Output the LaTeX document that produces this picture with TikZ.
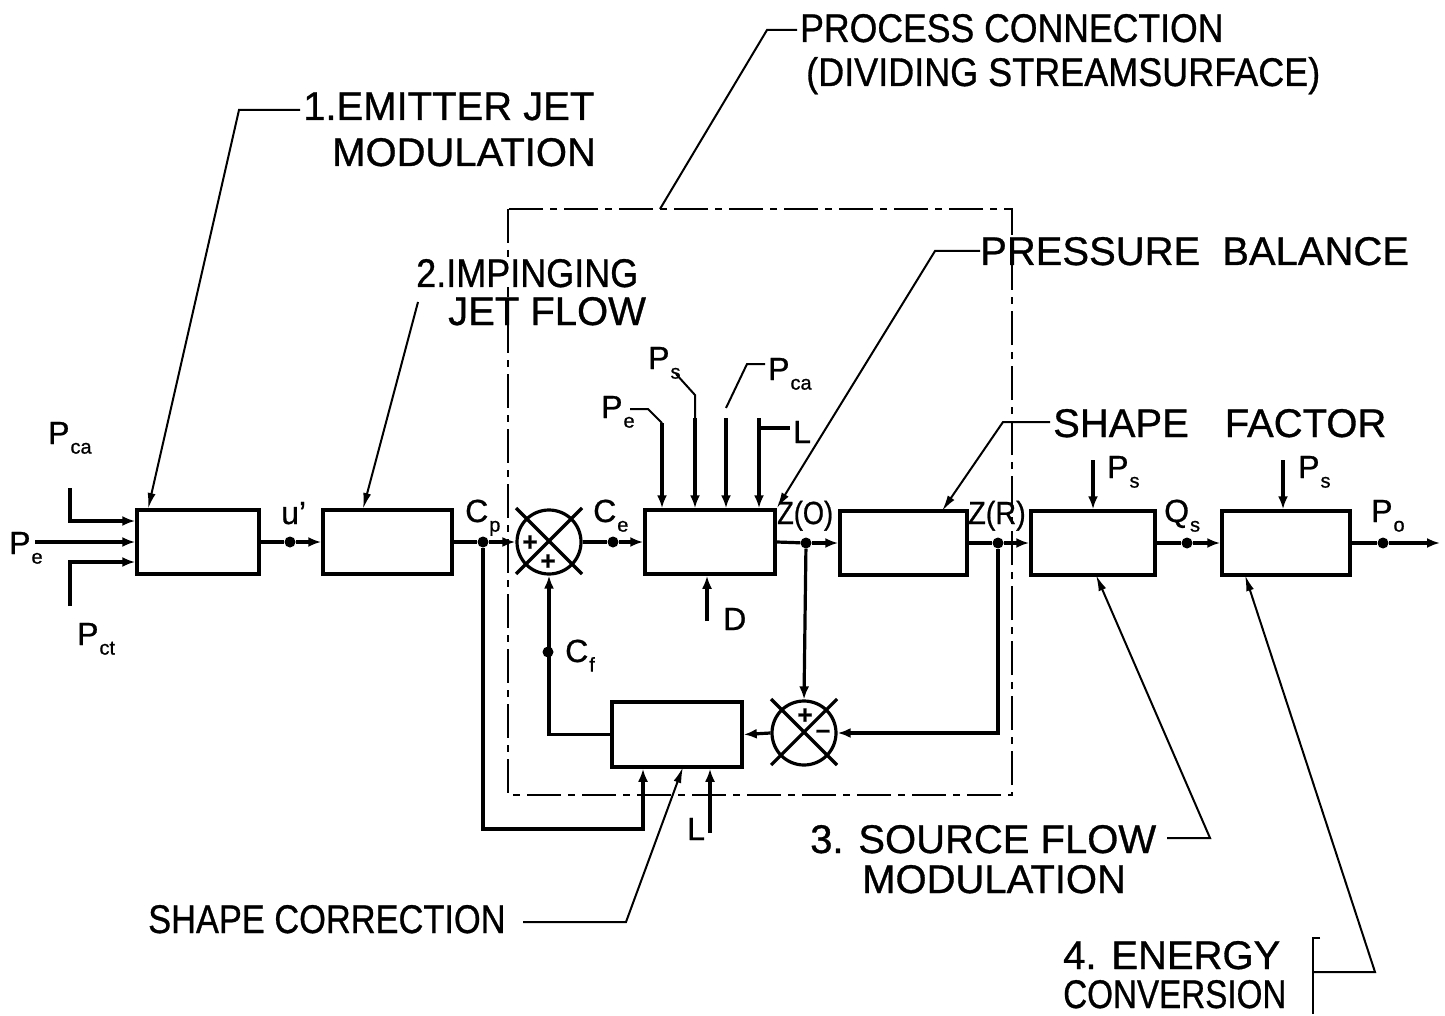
\documentclass[tikz,border=0pt]{standalone}
\usepackage{fontspec}
\usepackage{graphicx}
\setmainfont{Liberation Sans}[FakeBold=0.8]
\usetikzlibrary{arrows.meta,calc}
\newcommand\bigf{\fontsize{40}{44}\selectfont}
\newcommand\smf{\fontsize{32}{34}\selectfont}
\newcommand\sbs[1]{\kern0.03em\raisebox{-0.3em}{\fontsize{20}{20}\selectfont #1}}
\newcommand\hx[2]{\scalebox{#1}[1]{#2}}
\tikzset{
 sig/.style={line width=3.2pt},
 arr/.style={-{Latex[length=13pt,width=10pt]}},
 lead/.style={line width=2pt},
 larr/.style={line width=2pt,-{Latex[length=16pt,width=8pt]}},
 blk/.style={draw,line width=3.5pt,inner sep=0pt,minimum height=64pt},
 dotn/.style={circle,fill,inner sep=0pt,minimum size=11pt},
 summ/.style={circle,draw,line width=3.2pt,minimum size=64pt,inner sep=0pt},
 lbl/.style={inner sep=0pt,anchor=base west,font=\bigf,fill=white},
 sml/.style={inner sep=0pt,anchor=base west,font=\smf},
 sgn/.style={inner sep=0pt,font=\fontsize{26}{26}\selectfont\bfseries},
 pcbox/.style={line width=2.4pt,dash pattern=on 34pt off 7pt on 7pt off 7pt}
}
\begin{document}
\begin{tikzpicture}[x=1pt,y=-1pt]
\path[use as bounding box] (0,0) rectangle (1445,1016);

% process connection box
\draw[pcbox] (508,209) rectangle (1012,795);

% blocks
\node[blk,minimum width=122pt] (b1) at (198,542) {};
\node[blk,minimum width=129pt] (b2) at (387.5,542) {};
\node[blk,minimum width=130pt] (pb) at (710,542) {};
\node[blk,minimum width=127pt] (sf) at (903.5,543) {};
\node[blk,minimum width=124pt] (b3) at (1093,543) {};
\node[blk,minimum width=128pt] (b4) at (1286,543) {};
\node[blk,minimum width=130pt,minimum height=65pt] (sc) at (677,734.5) {};

% summing junctions
\node[summ] (s1) at (549,542) {};
\node[summ] (s2) at (804,733) {};
\draw[sig] ($(s1)+(-33,-34)$) -- ($(s1)+(33,32)$);
\draw[sig] ($(s1)+(33,-34)$) -- ($(s1)+(-33,32)$);
\draw[sig] ($(s2)+(-33,-34)$) -- ($(s2)+(33,32)$);
\draw[sig] ($(s2)+(33,-34)$) -- ($(s2)+(-33,32)$);
\node[sgn] (s1p1) at (530,543) {+};
\node[sgn] (s1p2) at (548,562) {+};
\node[sgn] (s2p1) at (805,716) {+};
\node[sgn] (s2m1) at (823,734) {--};

% dots
\node[dotn] (upd) at (290,542) {};
\node[dotn] (cpd) at (483,542) {};
\node[dotn] (ced) at (613,542) {};
\node[dotn] (z0d) at (806,543) {};
\node[dotn] (zrd) at (998,543) {};
\node[dotn] (qsd) at (1187,543) {};
\node[dotn] (pod) at (1383,543) {};
\node[dotn] (cfd) at (548,652) {};

% inputs of block 1
\coordinate (pein) at (35,542);
\coordinate (cain) at (70,488);
\coordinate (cab) at (70,521);
\coordinate (ctin) at (70,606);
\coordinate (ctb) at (70,562);
\draw[sig,arr] (pein) -- (b1.west);
\draw[sig,arr] (cain) -- (cab) -- (cab -| b1.west);
\draw[sig,arr] (ctin) -- (ctb) -- (ctb -| b1.west);

% main chain
\draw[sig,arr] (b1.east) -- (upd) -- (b2.west);
\draw[sig] (b2.east) -- (cpd);
\draw[sig,arr] (cpd) -- (s1.west);
\draw[sig] (s1.east) -- (ced);
\draw[sig,arr] (ced) -- (pb.west);
\draw[sig] (pb.east) -- (z0d);
\draw[sig,arr] (z0d) -- (sf.west);
\draw[sig] (sf.east) -- (zrd);
\draw[sig,arr] (zrd) -- (b3.west);
\draw[sig,arr] (b3.east) -- (qsd) -- (b4.west);
\coordinate (outp) at (1440,543);
\draw[sig,arr] (b4.east) -- (pod) -- (outp);

% feedback
\draw[sig,arr] (z0d) -- (s2.north);
\draw[sig,arr] (zrd) |- (s2.east);
\draw[sig,arr] (s2.west) -- (sc.east);
\draw[sig,arr] (sc.west) -| (s1.south);
\coordinate (fbc) at (643,829);
\draw[sig,arr] (cpd) |- (fbc) -- (fbc |- sc.south);
\coordinate (lbot) at (710,833);
\draw[sig,arr] (lbot) -- (lbot |- sc.south);

% inputs of pressure balance block
\coordinate (pe2a) at (630,409);
\coordinate (pe2b) at (648,409);
\coordinate (pe2c) at (662,423);
\draw[lead] (pe2a) -- (pe2b) -- (pe2c);
\draw[sig,arr] (pe2c) -- (pe2c |- pb.north);
\coordinate (ps2a) at (676,374);
\coordinate (ps2b) at (695,395);
\coordinate (ps2c) at (695,418);
\draw[lead] (ps2a) -- (ps2b) -- (ps2c);
\draw[sig,arr] (ps2c) -- (ps2c |- pb.north);
\coordinate (ca2a) at (765,364);
\coordinate (ca2b) at (747,364);
\coordinate (ca2c) at (726,408);
\coordinate (ca2d) at (726,418);
\draw[lead] (ca2a) -- (ca2b) -- (ca2c);
\draw[sig,arr] (ca2d) -- (ca2d |- pb.north);
\coordinate (l2a) at (759,418);
\coordinate (l2t) at (759,428);
\coordinate (l2e) at (790,428);
\draw[sig,arr] (l2a) -- (l2a |- pb.north);
\draw[sig] (l2t) -- (l2e);
\coordinate (din) at (707,621);
\draw[sig,arr] (din) -- (din |- pb.south);

% Ps inputs of blocks 3, 4
\coordinate (ps3) at (1093,460);
\coordinate (ps4) at (1283,460);
\draw[sig,arr] (ps3) -- (ps3 |- b3.north);
\draw[sig,arr] (ps4) -- (ps4 |- b4.north);

% small labels
\node[sml] (lca1) at (48,444) {P\sbs{ca}};
\node[sml] (lpe1) at (9,554) {P\sbs{e}};
\node[sml] (lct1) at (77,645) {P\sbs{ct}};
\node[sml] (lu) at (281,524) {u'};
\node[sml] (lcp) at (465,522) {C\sbs{p}};
\node[sml] (lce) at (593,522) {C\sbs{e}};
\node[sml] (lpe2) at (601,418) {P\sbs{e}};
\node[sml] (lps2) at (648,369) {P\sbs{s}};
\node[sml] (lca2) at (768,380) {P\sbs{ca}};
\node[sml] (ll2) at (793,443) {L};
\node[sml] (lz0) at (777,524) {\hx{0.85}{Z(O)}};
\node[sml] (ld) at (723,630) {D};
\node[sml] (lcf) at (565,662) {C\sbs{f}};
\node[sml] (ll3) at (687,840) {L};
\node[sml] (lzr) at (968,524) {\hx{0.9}{Z(R)}};
\node[sml] (lps3) at (1107,478) {P\sbs{s}};
\node[sml] (lqs) at (1164,522) {Q\sbs{s}};
\node[sml] (lps4) at (1298,478) {P\sbs{s}};
\node[sml] (lpo) at (1371,522) {P\sbs{o}};

% big labels
\node[lbl] (t1a) at (303,120) {1.EMITTER JET};
\node[lbl] (t1b) at (332,166) {MODULATION};
\node[lbl] (t2a) at (416,287) {\hx{0.9}{2.IMPINGING}};
\node[lbl] (t2b) at (448,325) {JET FLOW};
\node[lbl] (tpa) at (800,42) {\hx{0.89}{PROCESS CONNECTION}};
\node[lbl] (tpb) at (806,86) {\hx{0.9}{(DIVIDING STREAMSURFACE)}};
\node[lbl] (tpr) at (980,265) {PRESSURE\hspace{0.55em}BALANCE};
\node[lbl] (tsf) at (1053,437) {SHAPE\hspace{0.9em}FACTOR};
\node[lbl] (t3a) at (810,853) {3. SOURCE FLOW};
\node[lbl] (t3b) at (862,893) {MODULATION};
\node[lbl] (tsc) at (148,933) {\hx{0.86}{SHAPE CORRECTION}};
\node[lbl] (t4a) at (1063,969) {4. ENERGY};
\node[lbl] (t4b) at (1063,1008) {\hx{0.83}{CONVERSION}};

% leaders
\coordinate (e1a) at (300,110);
\coordinate (e1b) at (239,110);
\coordinate (e1t) at (148,509);
\draw[larr] (e1a) -- (e1b) -- (e1t);
\coordinate (e2a) at (418,302);
\coordinate (e2t) at (363,509);
\draw[larr] (e2a) -- (e2t);
\coordinate (pca) at (797,30);
\coordinate (pcb) at (767,30);
\coordinate (pcc) at (660,209);
\draw[lead] (pca) -- (pcb) -- (pcc);
\coordinate (pra) at (980,251);
\coordinate (prb) at (935,251);
\draw[larr] (pra) -- (prb) -- (pb.north east);
\coordinate (sfa) at (1050,422);
\coordinate (sfb) at (1003,422);
\coordinate (sft) at (942,511);
\draw[larr] (sfa) -- (sfb) -- (sft);
\coordinate (s3a) at (1167,838);
\coordinate (s3b) at (1210,838);
\coordinate (s3t) at (1096,575);
\draw[larr] (s3a) -- (s3b) -- (s3t);
\coordinate (eca) at (1320,938);
\coordinate (ecb) at (1313,938);
\coordinate (ecc) at (1313,1014);
\draw[lead] (eca) -- (ecb) -- (ecc);
\coordinate (ecd) at (1313,972);
\coordinate (ece) at (1375,972);
\coordinate (ect) at (1245,575);
\draw[larr] (ecd) -- (ece) -- (ect);
\coordinate (sca) at (523,922);
\coordinate (scb) at (626,922);
\coordinate (sct) at (683,767);
\draw[larr] (sca) -- (scb) -- (sct);
\end{tikzpicture}
\end{document}
